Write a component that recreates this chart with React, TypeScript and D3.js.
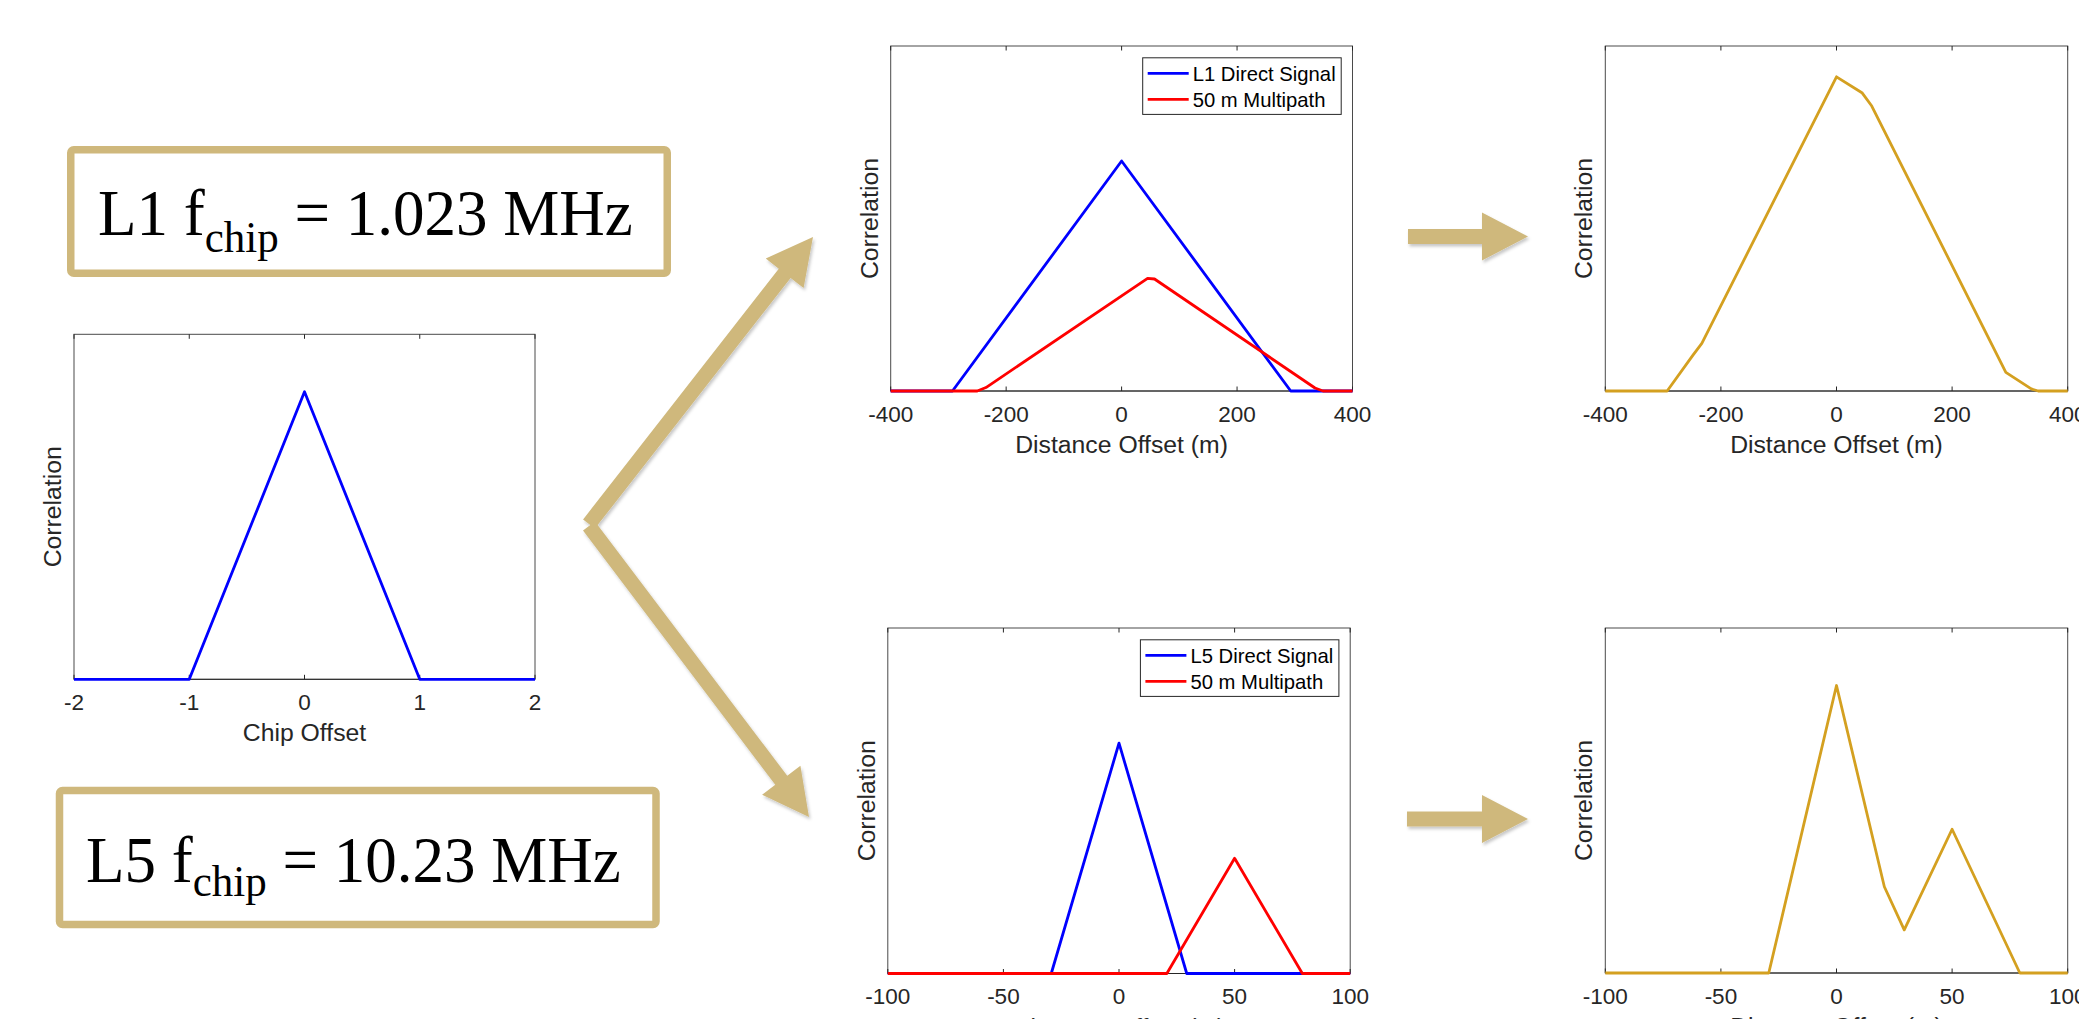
import React from 'react';
import * as d3 from 'd3';

// chip-level autocorrelation
const chipOffset = [-2, -1, 0, 1, 2];
const chipCorr = [0, 0, 1, 0, 0];
const chipTicks = [-2, -1, 0, 1, 2];

// L1 (1.023 MHz) -- distance offset in metres
const l1DirectX = [-400, -293, 0, 293, 400];
const l1DirectY = [0, 0, 1, 0, 0];
const l1MultiX = [-400, -250, -235, 45, 57, 335, 349, 400];
const l1MultiY = [0, 0, 0.015, 0.49, 0.487, 0.013, 0, 0];
const l1SumX = [-400, -293, -248, -233, 0, 44, 61, 293, 337, 349, 400];
const l1SumY = [0, 0, 0.157, 0.207, 1.366, 1.297, 1.239, 0.081, 0.009, 0, 0];
const l1Ticks = [-400, -200, 0, 200, 400];

// L5 (10.23 MHz)
const l5DirectX = [-100, -29.3, 0, 29.3, 100];
const l5DirectY = [0, 0, 1, 0, 0];
const l5MultiX = [-100, 20.7, 50, 79.3, 100];
const l5MultiY = [0, 0, 0.5, 0, 0];
const l5SumX = [-100, -29.3, 0, 20.7, 29.3, 50, 79.3, 100];
const l5SumY = [0, 0, 1, 0.3, 0.15, 0.5, 0, 0];
const l5Ticks = [-100, -50, 0, 50, 100];

const BLUE = '#0000ff';
const RED = '#ff0000';
const GOLD = '#d4a020';
const TAN = '#cfb87c';
const AX = '#262626';
const SANS = "'Liberation Sans', Arial, Helvetica, sans-serif";
const SERIF = "'Liberation Serif', 'Times New Roman', serif";

type Series = { xs: number[]; ys: number[]; color: string };
type LegendItem = { label: string; color: string };

interface PanelProps {
  left: number;
  top: number;
  width: number;
  height: number;
  xDomain: [number, number];
  yMax: number;
  ticks: number[];
  xLabel: string;
  series: Series[];
  legend?: LegendItem[];
}

const Panel: React.FC<PanelProps> = ({ left, top, width, height, xDomain, yMax, ticks, xLabel, series, legend }) => {
  const x = d3.scaleLinear().domain(xDomain).range([left, left + width]);
  const y = d3.scaleLinear().domain([0, yMax]).range([top + height, top]);
  const line = d3.line<[number, number]>().x(d => x(d[0])).y(d => y(d[1]));
  const bottom = top + height;
  const tickLen = 4.5;

  const lw = 198.5;
  const lh = 56.6;
  const lx = left + width - 11.3 - lw;
  const ly = top + 11.8;

  return (
    <g>
      <rect x={left} y={top} width={width} height={height} fill="#fff" stroke="#4a4a4a" strokeWidth={1} />
      {ticks.map(t => (
        <g key={t}>
          <line x1={x(t)} x2={x(t)} y1={bottom} y2={bottom - tickLen} stroke={AX} />
          <line x1={x(t)} x2={x(t)} y1={top} y2={top + tickLen} stroke={AX} />
          <text x={x(t)} y={bottom + 30.7} textAnchor="middle" fontFamily={SANS} fontSize={22.5} fill={AX}>
            {String(t)}
          </text>
        </g>
      ))}
      <line x1={left} x2={left + width} y1={bottom} y2={bottom} stroke={AX} />
      {series.map((s, i) => (
        <path
          key={i}
          d={line(s.xs.map((v, j) => [v, s.ys[j]] as [number, number])) || ''}
          fill="none"
          stroke={s.color}
          strokeWidth={2.8}
          strokeLinejoin="round"
        />
      ))}
      <text x={left + width / 2} y={bottom + 62} textAnchor="middle" fontFamily={SANS} fontSize={24.75} fill={AX}>
        {xLabel}
      </text>
      <text
        transform={`translate(${left - 13},${top + height / 2}) rotate(-90)`}
        textAnchor="middle"
        fontFamily={SANS}
        fontSize={24.75}
        fill={AX}
      >
        Correlation
      </text>
      {legend && (
        <g>
          <rect x={lx} y={ly} width={lw} height={lh} fill="#fff" stroke={AX} strokeWidth={1} />
          {legend.map((item, i) => {
            const ry = ly + 15.5 + i * 26;
            return (
              <g key={item.label}>
                <line x1={lx + 5} x2={lx + 46} y1={ry} y2={ry} stroke={item.color} strokeWidth={2.8} />
                <text x={lx + 50} y={ry + 7.5} fontFamily={SANS} fontSize={20.25} fill="#000">
                  {item.label}
                </text>
              </g>
            );
          })}
        </g>
      )}
    </g>
  );
};

// block arrow from tail to tip
const arrowPoints = (tail: [number, number], tip: [number, number], shaft = 15, headLen = 46, headW = 48) => {
  const dx = tip[0] - tail[0];
  const dy = tip[1] - tail[1];
  const len = Math.hypot(dx, dy);
  const ux = dx / len;
  const uy = dy / len;
  const px = -uy;
  const py = ux;
  const bx = tip[0] - ux * headLen;
  const by = tip[1] - uy * headLen;
  const pts = [
    [tail[0] + px * shaft / 2, tail[1] + py * shaft / 2],
    [bx + px * shaft / 2, by + py * shaft / 2],
    [bx + px * headW / 2, by + py * headW / 2],
    [tip[0], tip[1]],
    [bx - px * headW / 2, by - py * headW / 2],
    [bx - px * shaft / 2, by - py * shaft / 2],
    [tail[0] - px * shaft / 2, tail[1] - py * shaft / 2],
  ];
  return pts.map(p => p.join(',')).join(' ');
};

const arrows: [[number, number], [number, number]][] = [
  [[589, 524], [813, 237]],
  [[589, 526], [809, 817]],
  [[1408, 236.5], [1528, 236.5]],
  [[1407, 819], [1528, 819]],
];

const App: React.FC = () => {
  return (
    <svg
      width={2079}
      height={1019}
      style={{ position: 'absolute', left: 0, top: 0, background: '#fff' }}
    >
      <defs>
        <filter id="shadow" x="-20%" y="-20%" width="140%" height="140%">
          <feDropShadow dx={1.5} dy={2.5} stdDeviation={1.6} floodColor="#000" floodOpacity={0.22} />
        </filter>
      </defs>
      <rect width={2079} height={1019} fill="#fff" />

      {/* frequency boxes */}
      <rect x={70.75} y={149.75} width={596.5} height={123.5} rx={3} fill="#fff" stroke={TAN} strokeWidth={7.5} />
      <text x={98} y={235} fontFamily={SERIF} fontSize={63} fill="#000" transform="translate(98,235) scale(1,1.05) translate(-98,-235)">
        L1 f<tspan fontSize={43} dy={16}>chip</tspan>
        <tspan dy={-16}>{' = 1.023 MHz'}</tspan>
      </text>
      <rect x={59.5} y={790.5} width={596.5} height={134} rx={3} fill="#fff" stroke={TAN} strokeWidth={7.5} />
      <text x={86} y={881.7} fontFamily={SERIF} fontSize={63} fill="#000" transform="translate(86,881.7) scale(1,1.05) translate(-86,-881.7)">
        L5 f<tspan fontSize={43} dy={14}>chip</tspan>
        <tspan dy={-14}>{' = 10.23 MHz'}</tspan>
      </text>

      <Panel
        left={74}
        top={334.3}
        width={461}
        height={345}
        xDomain={[-2, 2]}
        yMax={1.2}
        ticks={chipTicks}
        xLabel="Chip Offset"
        series={[{ xs: chipOffset, ys: chipCorr, color: BLUE }]}
      />

      <Panel
        left={890.7}
        top={46}
        width={461.8}
        height={345}
        xDomain={[-400, 400]}
        yMax={1.5}
        ticks={l1Ticks}
        xLabel="Distance Offset (m)"
        series={[
          { xs: l1DirectX, ys: l1DirectY, color: BLUE },
          { xs: l1MultiX, ys: l1MultiY, color: RED },
        ]}
        legend={[
          { label: 'L1 Direct Signal', color: BLUE },
          { label: '50 m Multipath', color: RED },
        ]}
      />

      <Panel
        left={1605.3}
        top={46}
        width={462.4}
        height={345}
        xDomain={[-400, 400]}
        yMax={1.5}
        ticks={l1Ticks}
        xLabel="Distance Offset (m)"
        series={[{ xs: l1SumX, ys: l1SumY, color: GOLD }]}
      />

      <Panel
        left={887.8}
        top={628}
        width={462.4}
        height={345.5}
        xDomain={[-100, 100]}
        yMax={1.5}
        ticks={l5Ticks}
        xLabel="Distance Offset (m)"
        series={[
          { xs: l5DirectX, ys: l5DirectY, color: BLUE },
          { xs: l5MultiX, ys: l5MultiY, color: RED },
        ]}
        legend={[
          { label: 'L5 Direct Signal', color: BLUE },
          { label: '50 m Multipath', color: RED },
        ]}
      />

      <Panel
        left={1605.3}
        top={628}
        width={462.4}
        height={345}
        xDomain={[-100, 100]}
        yMax={1.2}
        ticks={l5Ticks}
        xLabel="Distance Offset (m)"
        series={[{ xs: l5SumX, ys: l5SumY, color: GOLD }]}
      />

      <g filter="url(#shadow)">
        {arrows.map((a, i) => (
          <polygon key={i} points={arrowPoints(a[0], a[1])} fill={TAN} />
        ))}
      </g>
    </svg>
  );
};

export default App;
